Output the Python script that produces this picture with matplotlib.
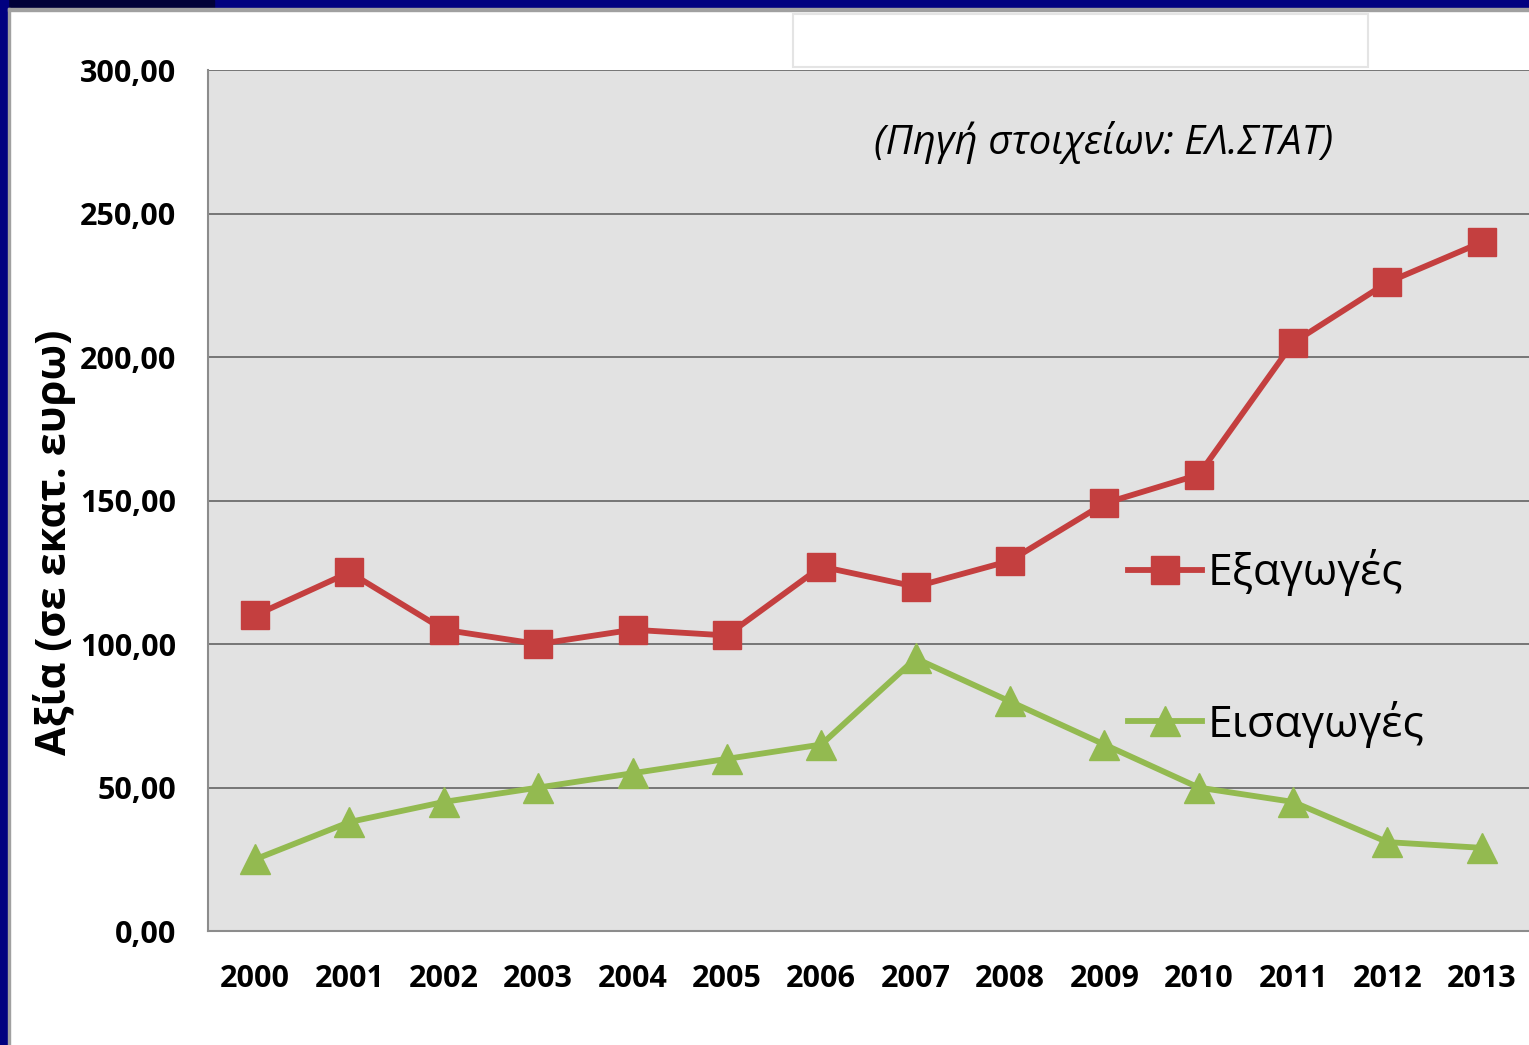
'''
Plot export / import values (million euro) for 2000-2013, source ELSTAT.
'''
import matplotlib.pyplot as plt
from matplotlib.patches import Rectangle
from matplotlib.ticker import FuncFormatter

# Define chart data
years = ["2000", "2001", "2002", "2003", "2004", "2005", "2006",
         "2007", "2008", "2009", "2010", "2011", "2012", "2013"]
exports = [110, 125, 105, 100, 105, 103, 127, 120, 129, 149, 159, 205, 226, 240]
imports = [25, 38, 45, 50, 55, 60, 65, 95, 80, 65, 50, 45, 31, 29]
y_ticks = [0, 50, 100, 150, 200, 250, 300]


# Define main function to draw the chart
def draw_chart() -> None:
  plt.rcParams["font.family"] = ["Open Sans", "DejaVu Sans"]

  # Define the figure and axes
  fig = plt.figure(figsize=(15.29, 10.45), dpi=100)
  fig.patch.set_facecolor("white")
  ax = fig.add_axes([0.136, 0.109, 0.864, 0.824])
  ax.set_facecolor("#e2e2e2")

  # Slide frame: navy strips and thin gray inner line
  fig.patches.append(Rectangle((0, 0.9923), 1, 0.0077, transform=fig.transFigure,
                               color="#000080", zorder=0))
  fig.patches.append(Rectangle((0, 0.9923), 0.14, 0.0077, transform=fig.transFigure,
                               color="#000038", zorder=0))
  fig.patches.append(Rectangle((0, 0), 0.0052, 1, transform=fig.transFigure,
                               color="#000080", zorder=0))
  fig.patches.append(Rectangle((0.0052, 0), 0.0015, 0.9923, transform=fig.transFigure,
                               color="#a0a0a0", zorder=0))
  fig.patches.append(Rectangle((0.0052, 0.9894), 0.9948, 0.0029, transform=fig.transFigure,
                               color="#a0a0a0", zorder=0))
  # Empty title box
  fig.patches.append(Rectangle((0.5186, 0.9359), 0.3761, 0.0507, transform=fig.transFigure,
                               facecolor="white", edgecolor="#e4e4e4", lw=1.5, zorder=0))

  x = list(range(len(years)))

  # Plot the two series
  ax.plot(x, exports, color="#C43F3F", lw=4.2, marker="s", markersize=20,
          label="Εξαγωγές", zorder=3)
  ax.plot(x, imports, color="#93BA50", lw=4.2, marker="^", markersize=21,
          label="Εισαγωγές", zorder=3)

  # Axes limits, ticks and grid
  ax.set_xlim(-0.5, len(years) - 0.5)
  ax.set_ylim(0, 300)
  ax.set_xticks(x)
  ax.set_xticklabels(years)
  ax.set_yticks(y_ticks)
  ax.yaxis.set_major_formatter(FuncFormatter(lambda v, _: f"{v:.2f}".replace(".", ",")))
  ax.tick_params(length=0, labelsize=22)
  ax.tick_params(axis="y", pad=23)
  ax.tick_params(axis="x", pad=24)
  for label in ax.get_xticklabels() + ax.get_yticklabels():
    label.set_fontweight("bold")
  ax.grid(True, axis="y", color="#767676", lw=1.4)
  ax.set_axisbelow(True)
  for side in ["top", "right"]:
    ax.spines[side].set_visible(False)
  for side in ["left", "bottom"]:
    ax.spines[side].set_color("#8c8c8c")
    ax.spines[side].set_linewidth(1.5)

  # Axis label and source note
  ax.set_ylabel("Αξία (σε εκατ. ευρω)", fontsize=30, fontweight="bold")
  ax.yaxis.set_label_coords(-0.1, 0.452)
  ax.text(0.504, 0.916, "(Πηγή στοιχείων: ΕΛ.ΣΤΑΤ)", transform=ax.transAxes,
          fontsize=29, style="italic", va="center", ha="left")

  # Legend inside the plot
  ax.legend(loc="upper left", bbox_to_anchor=(0.68, 0.469), frameon=False,
            fontsize=32, handlelength=1.65, handletextpad=0.12, labelspacing=2.35,
            borderpad=0, markerscale=1.0)

  fig.savefig("out.png", dpi=100)


if __name__ == "__main__":
  draw_chart()
